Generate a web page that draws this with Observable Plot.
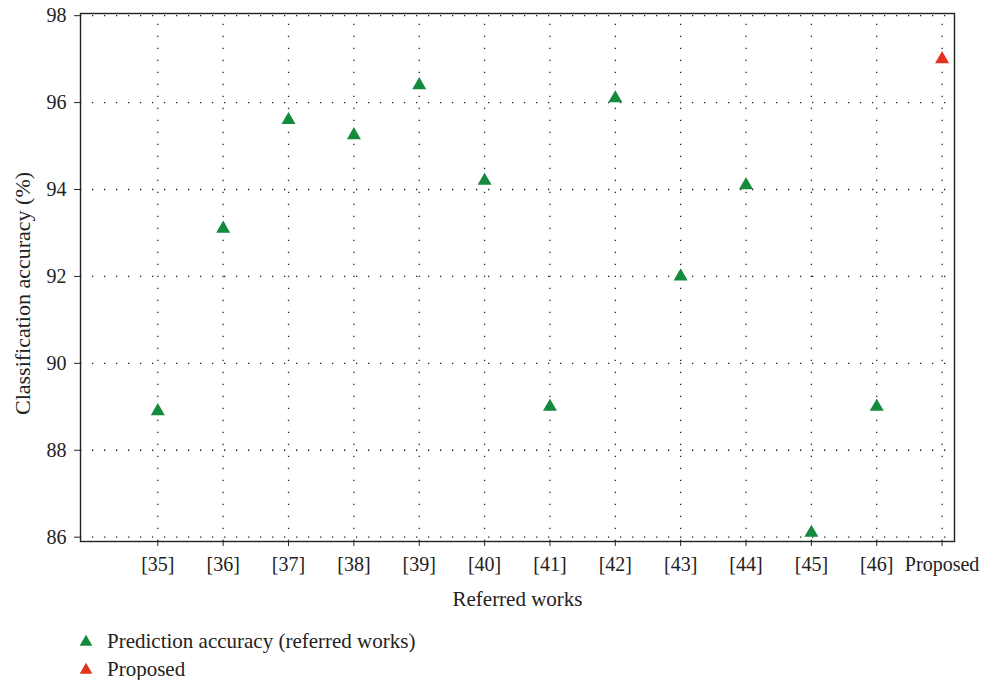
<!DOCTYPE html>
<html>
<head>
<meta charset="utf-8">
<script src="https://cdn.jsdelivr.net/npm/d3@7"></script>
<script src="https://cdn.jsdelivr.net/npm/@observablehq/plot@0.6"></script>
<style>
  body { margin: 0; background: #fff; font-family: "Liberation Serif", serif; }
  #legend { margin-left: 79px; margin-top: 12px; font-size: 21px; color: #222; }
  .row { display: flex; align-items: center; height: 28px; }
  .row svg { margin-right: 14px; }
</style>
</head>
<body>
<div id="chart"></div>
<div id="legend"></div>
<script>
const works = ["[35]", "[36]", "[37]", "[38]", "[39]", "[40]", "[41]", "[42]", "[43]", "[44]", "[45]", "[46]", "Proposed"];
const accuracy = [88.9, 93.1, 95.6, 95.25, 96.4, 94.2, 89.0, 96.1, 92.0, 94.1, 86.1, 89.0, 97.0];
const series = ["Prediction accuracy (referred works)", "Prediction accuracy (referred works)", "Prediction accuracy (referred works)", "Prediction accuracy (referred works)", "Prediction accuracy (referred works)", "Prediction accuracy (referred works)", "Prediction accuracy (referred works)", "Prediction accuracy (referred works)", "Prediction accuracy (referred works)", "Prediction accuracy (referred works)", "Prediction accuracy (referred works)", "Prediction accuracy (referred works)", "Proposed"];
const seriesNames = ["Prediction accuracy (referred works)", "Proposed"];
const seriesColors = ["#138a3c", "#e5321e"];
const yTicks = [86, 88, 90, 92, 94, 96, 98];
const xTitle = "Referred works";
const yTitle = "Classification accuracy (%)";

const data = works.map((w, i) => ({i, work: w, acc: accuracy[i], series: series[i]}));
const xIdx = d3.range(works.length);

const grid = {stroke: "#222", strokeOpacity: 1, strokeWidth: 1.3, strokeDasharray: "1.3,10.7"};

const chart = Plot.plot({
  width: 983,
  height: 615,
  marginLeft: 80,
  marginRight: 29,
  marginTop: 13,
  marginBottom: 74,
  style: {fontFamily: "Liberation Serif, serif", fontSize: "20px", color: "#222", background: "#fff"},
  x: {type: "linear", domain: [-1.183, 12.19]},
  y: {domain: [85.9, 98.05]},
  color: {domain: seriesNames, range: seriesColors},
  marks: [
    Plot.gridX(xIdx, {...grid, y1: 85.9, y2: 98.05}),
    Plot.gridY(yTicks, {...grid, x1: -1.183, x2: 12.19}),
    Plot.frame({stroke: "#222", strokeWidth: 1.4}),
    Plot.axisX({ticks: xIdx, tickFormat: i => works[i], tickSize: 5, tickPadding: 10, label: null, fontSize: 20}),
    Plot.axisY({ticks: yTicks, tickSize: 6, tickPadding: 8, label: null, fontSize: 20}),
    Plot.text([xTitle], {frameAnchor: "bottom", textAnchor: "middle", lineAnchor: "middle", dy: 58, fontSize: 21, fill: "#222"}),
    Plot.text([yTitle], {frameAnchor: "left", textAnchor: "middle", lineAnchor: "middle", rotate: -90, dx: -58, dy: 16, fontSize: 22, fill: "#222"}),
    Plot.dot(data, {x: "i", y: "acc", fill: "series", symbol: "triangle", r: 5.2, stroke: "none"})
  ]
});
document.getElementById("chart").append(chart);

const legend = document.getElementById("legend");
seriesNames.forEach((name, k) => {
  const row = document.createElement("div");
  row.className = "row";
  const sym = d3.create("svg").attr("width", 14).attr("height", 14);
  sym.append("path").attr("transform", "translate(7,8)").attr("d", d3.symbol(d3.symbolTriangle, 70)()).attr("fill", seriesColors[k]);
  row.append(sym.node());
  const t = document.createElement("span");
  t.textContent = name;
  row.append(t);
  legend.append(row);
});
</script>
</body>
</html>
